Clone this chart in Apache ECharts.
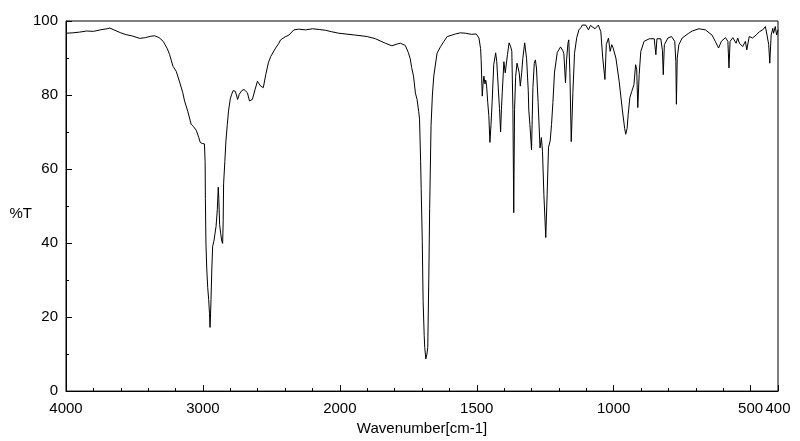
<!DOCTYPE html>
<html>
<head>
<meta charset="utf-8">
<script src="https://cdn.jsdelivr.net/npm/echarts@6/dist/echarts.min.js"></script>
<style>
  html, body { margin: 0; padding: 0; background: #fff; }
  #chart { width: 800px; height: 441px; }
</style>
</head>
<body>
<div id="chart"></div>
<script>
// wavenumber (cm-1), high to low
const wavenumbers = [
  4000, 3950, 3900, 3850, 3800, 3750, 3700, 3680, 3650, 3600, 3560, 3520, 3461, 3420, 3380, 3352,
  3320, 3290, 3260, 3243, 3219, 3195, 3170, 3147, 3134, 3110, 3086, 3070, 3049, 3030, 3020, 3005,
  2989, 2984, 2982, 2978, 2972, 2965, 2958, 2952, 2948, 2945, 2941, 2935, 2929, 2920, 2912, 2904,
  2895, 2888, 2884, 2878, 2870, 2862, 2856, 2852, 2849, 2840, 2832, 2822, 2813, 2800, 2790, 2779,
  2764, 2755, 2747, 2740, 2735, 2716, 2700, 2687, 2675, 2660, 2650, 2639, 2630, 2619, 2602, 2590,
  2578, 2559, 2541, 2522, 2505, 2493, 2469, 2445, 2433, 2400, 2372, 2336, 2300, 2251, 2200, 2150,
  2106, 2060, 2009,
  1944, 1900, 1870, 1834, 1810, 1790, 1779, 1761, 1750, 1743, 1738, 1731, 1724, 1718, 1712, 1709,
  1705, 1703, 1699, 1696, 1692, 1690, 1686, 1682, 1679, 1675, 1672, 1667, 1662, 1657, 1645, 1632,
  1620, 1608, 1590, 1578, 1560, 1541, 1520, 1502, 1492, 1486, 1484, 1480, 1477, 1474, 1470, 1467,
  1464, 1460, 1456, 1452, 1448, 1444, 1438, 1431, 1427, 1424, 1417, 1413, 1410, 1407, 1401, 1396,
  1392, 1388, 1382, 1376, 1372, 1368, 1365, 1362, 1358, 1353, 1349, 1345, 1341, 1336, 1332, 1325,
  1318, 1312, 1310, 1306, 1300, 1295, 1290, 1286, 1282, 1276, 1269, 1264, 1260, 1255, 1248, 1243,
  1238, 1232, 1227, 1222, 1216, 1206, 1194, 1186, 1182, 1176, 1172, 1167, 1164, 1160, 1155, 1149,
  1143, 1135, 1127, 1120, 1115, 1102, 1092, 1085, 1078, 1068, 1056, 1047, 1040, 1032, 1027, 1019,
  1013, 1007, 1002, 992, 980, 968, 960, 956, 951, 947, 941, 934, 926, 920, 916, 912,
  907, 901, 889, 870, 852, 846, 842, 828, 822, 819, 815, 802, 789, 777, 773, 771,
  768, 762, 750, 726, 713, 689, 665, 641, 629, 617, 607, 592, 583, 579, 575, 565,
  553, 547, 541, 529, 519, 514, 505, 493, 480, 468, 456, 446, 440, 434, 430, 425,
  419, 416, 410, 405, 400
];
// transmittance (%T) at each wavenumber
const transmittance = [
  96.7, 96.8, 97.0, 97.3, 97.2, 97.6, 97.9, 98.1, 97.6, 96.8, 96.3, 96.0, 95.3, 95.5, 95.9, 96.0,
  95.5, 94.5, 92.5, 90.9, 87.8, 86.4, 83.5, 80.6, 78.4, 75.5, 72.1, 71.5, 70.5, 68.5, 67.2, 66.9,
  66.8, 62, 52, 40, 33, 28, 24.7, 21, 17.2, 20, 24.7, 33, 39.1, 40.5, 42.5, 44.5,
  49, 55.1, 52, 45, 42.5, 40.5, 39.9, 46, 56.0, 62, 67.6, 72, 75.7, 79, 80.2, 81.2,
  81.0, 80, 78.8, 79.5, 80.2, 81.2, 81.5, 81.5, 80.6, 78.4, 78.6, 78.8, 80, 81.5, 83.7, 83.2,
  82.4, 82.0, 85.5, 88.7, 90.4, 90.9, 92.7, 94.0, 94.9, 95.7, 96.2, 97.6, 97.8, 97.6, 97.9, 97.7,
  97.5, 97.1, 96.7,
  96.2, 95.8, 95.2, 94.0, 93.3, 93.8, 94.0, 93.4, 91.5, 89.8, 87.5, 85.1, 80.5, 78.8, 75.5, 73.5,
  62, 54.7, 40.5, 24.4, 15, 11.8, 8.7, 10, 11.8, 31.4, 49.3, 71.7, 80, 85.1, 91.3, 93.1,
  94.5, 95.8, 96.2, 96.5, 96.8, 96.7, 96.4, 96.5, 95.4, 92.5, 89.5, 79.7, 83, 85.1, 83, 84,
  82.4, 78, 74.5, 67.2, 72, 77.9, 88.2, 91.4, 89, 85.1, 76.3, 70.0, 76, 80.6, 89.0, 86,
  85.5, 90.9, 94.1, 93, 91.8, 76, 48.2, 76, 85, 88.6, 89.1, 86, 82.4, 86, 89.8, 94.1,
  89.8, 81.2, 75.9, 72, 65.2, 82, 88.5, 89.5, 87.3, 78, 65.7, 68.5, 64.8, 53.2, 41.5, 53.2,
  65.9, 67.6, 72, 78, 86.2, 91.5, 93.0, 92.0, 91.2, 83.3, 89.5, 94.0, 94.9, 86, 67.4, 80.6,
  91.3, 95.5, 97.6, 98.2, 98.9, 98.9, 97.6, 98.8, 98.9, 97.9, 98.9, 97.1, 90, 84.2, 93.6, 95.4,
  91.8, 93.6, 92.7, 90.0, 83.7, 75.7, 71, 69.4, 71, 74.8, 79.3, 81.0, 82.8, 88.2, 87, 76.6,
  85.5, 91.8, 94.5, 95.2, 95.2, 90.9, 95.2, 95.2, 92, 85.5, 93.6, 95.4, 95.8, 94.5, 89, 77.5,
  90, 93.6, 95.4, 96.7, 97.3, 97.9, 97.6, 96.2, 94.5, 92.7, 94.5, 95.5, 94.5, 87.3, 94.5, 95.5,
  94.0, 95.4, 94.0, 93.1, 94.5, 92.2, 95.8, 95.4, 96.2, 97.1, 97.6, 98.5, 96.2, 93.6, 88.6, 96.2,
  98.0, 96.7, 98.5, 96.2, 97.6
];

// 4000-2000 is drawn at half the scale of 2000-400
function toAxis(w) {
  return w >= 2000 ? (4000 - w) / 2 : 1000 + (2000 - w);
}
function fromAxis(t) {
  return t <= 1000 ? 4000 - 2 * t : 2000 - (t - 1000);
}

const font = "'Liberation Sans', sans-serif";
const seriesData = wavenumbers.map((w, i) => [toAxis(w), transmittance[i]]);

const chart = echarts.init(document.getElementById('chart'));
chart.setOption({
  backgroundColor: '#fff',
  animation: false,
  grid: {
    left: 66, right: 22, top: 21, bottom: 47,
    show: true, borderColor: '#000', borderWidth: 1
  },
  xAxis: {
    type: 'value',
    min: 0, max: 2600, interval: 500,
    name: 'Wavenumber[cm-1]',
    nameLocation: 'middle',
    nameGap: 26,
    nameTextStyle: { color: '#000', fontFamily: font, fontSize: 15 },
    axisLine: { lineStyle: { color: '#000', width: 1 } },
    axisTick: { inside: true, length: 6, lineStyle: { color: '#000' } },
    minorTick: { show: true, splitNumber: 5, length: 3, lineStyle: { color: '#000' } },
    splitLine: { show: false },
    axisLabel: {
      color: '#000', fontFamily: font, fontSize: 15, margin: 10,
      showMinLabel: true, showMaxLabel: true,
      formatter: v => String(fromAxis(v))
    }
  },
  yAxis: {
    type: 'value',
    min: 0, max: 100, interval: 20,
    name: '%T',
    nameLocation: 'middle',
    nameRotate: 0,
    nameGap: 34,
    nameMoveOverlap: false,
    nameTextStyle: { color: '#000', fontFamily: font, fontSize: 15, verticalAlign: 'top' },
    axisLine: { show: true, lineStyle: { color: '#000', width: 1 } },
    axisTick: { show: true, inside: true, length: 6, lineStyle: { color: '#000' } },
    minorTick: { show: true, splitNumber: 2, length: 3, lineStyle: { color: '#000' } },
    splitLine: { show: false },
    axisLabel: { color: '#000', fontFamily: font, fontSize: 15, margin: 8 }
  },
  series: [{
    type: 'line',
    data: seriesData,
    showSymbol: false,
    lineStyle: { color: '#000', width: 1 },
    silent: true
  }]
});
</script>
</body>
</html>
